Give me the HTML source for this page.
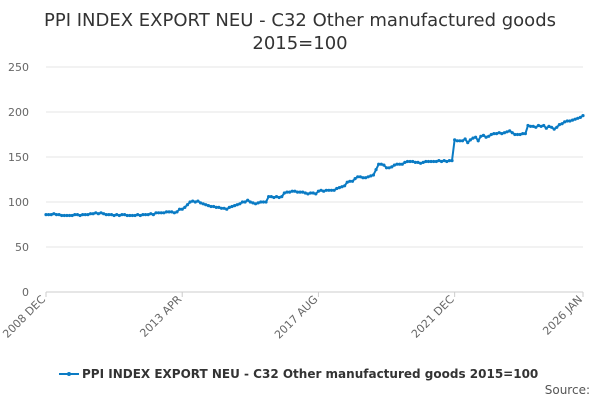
<!DOCTYPE html>
<html><head><meta charset="utf-8"><style>
body{margin:0;background:#fff;font-family:"Liberation Sans","DejaVu Sans",sans-serif}
svg text{font-family:"DejaVu Sans","Liberation Sans",sans-serif}
</style></head><body>
<svg id="c" width="600" height="400">
<text x="300" y="26" text-anchor="middle" font-size="18" fill="#333">PPI INDEX EXPORT NEU - C32 Other manufactured goods</text>
<text x="300" y="49" text-anchor="middle" font-size="18" fill="#333">2015=100</text>
<g id="grid"></g><g id="xax"></g><g id="series"></g>
<g>
<line x1="59" y1="374" x2="79" y2="374" stroke="#0a7bc4" stroke-width="2"/>
<circle cx="69" cy="374" r="2" fill="#0a7bc4"/>
<text x="82" y="378" font-size="12" font-weight="bold" fill="#333">PPI INDEX EXPORT NEU - C32 Other manufactured goods 2015=100</text>
</g>
<text x="590" y="394" text-anchor="end" font-size="12" fill="#555">Source:</text>
</svg>
<script>
const yTicks=[0,50,100,150,200,250];
const xTickLabels=["2008 DEC","2013 APR","2017 AUG","2021 DEC","2026 JAN"];
const xTickIndex=[0,52,104,156,205];
const values=[86,
86,86,87,86,86,85,85,85,85,85,86,86,
85,86,86,86,87,87,88,87,88,87,86,86,
86,85,86,85,86,86,85,85,85,85,86,85,
86,86,86,87,86,88,88,88,88,89,89,89,
88,89,92,92,94,97,100,101,100,101,99,98,
97,96,95,95,94,94,93,93,92,94,95,96,
97,98,100,100,102,100,99,98,99,100,100,100,
106,106,105,106,105,106,110,111,111,112,112,111,
111,111,110,109,110,110,109,112,113,112,113,113,
113,113,115,116,117,118,122,123,123,126,128,128,
127,127,128,129,130,136,142,142,141,138,138,139,
141,142,142,142,144,145,145,145,144,144,143,144,
145,145,145,145,145,146,145,146,145,146,146,169,
168,168,168,170,166,169,171,172,168,173,174,172,
173,175,176,176,177,176,177,178,179,177,175,175,
175,176,176,185,184,184,183,185,184,185,182,184,
183,181,183,186,187,189,190,190,191,192,193,194,
196];
const NS="http://www.w3.org/2000/svg";
const X0=46,X1=583,Y0=292,Y1=67;
const xs=i=>X0+(X1-X0)*i/(values.length-1);
const ys=v=>Y0-(Y0-Y1)*v/250;
function mk(t,a,p){const e=document.createElementNS(NS,t);for(const k in a)e.setAttribute(k,a[k]);p.appendChild(e);return e;}
const grid=document.getElementById('grid');
yTicks.forEach(v=>{
  const l=mk('line',{x1:X0,x2:X1,y1:ys(v),y2:ys(v),stroke:v===0?'#ccc':'#e6e6e6'},grid);
  
  
  const t=mk('text',{x:29,y:ys(v)+4,'text-anchor':'end','font-size':11,fill:'#666'},grid);
  t.textContent=v;
  
  
});
const xax=document.getElementById('xax');
xTickIndex.forEach((idx,k)=>{
  const x=xs(idx);
  const tk=mk('line',{x1:x,x2:x,y1:Y0,y2:Y0+5,stroke:'#ccc'},xax);
  
  
  const t=mk('text',{x:x,y:Y0+8,'text-anchor':'end','font-size':11,fill:'#666',transform:`rotate(-45 ${x} ${Y0+8})`},xax);
  t.textContent=xTickLabels[k];
  
  
});
const s=document.getElementById('series');
const p=mk('path',{d:values.map((v,i)=>(i?'L':'M')+xs(i).toFixed(1)+' '+ys(v).toFixed(1)).join(''),fill:'none',stroke:'#0a7bc4','stroke-width':2},s);


values.forEach((v,i)=>{
  const c=mk('circle',{cx:xs(i),cy:ys(v),r:1.6,fill:'#0a7bc4'},s);
  
  
});
</script>
</body></html>
